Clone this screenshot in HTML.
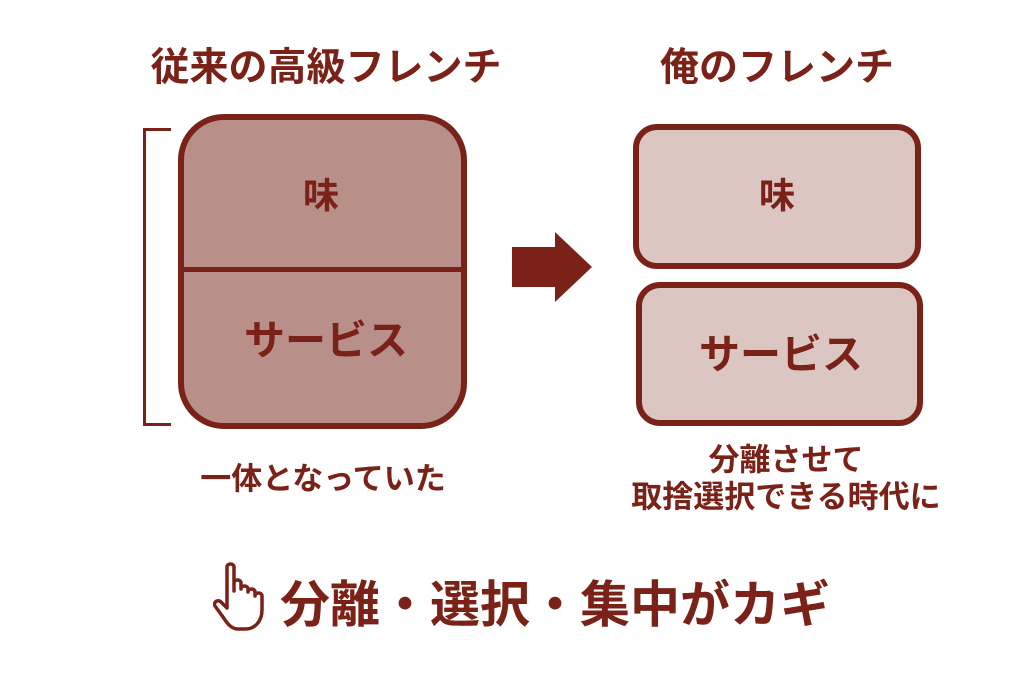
<!DOCTYPE html>
<html><head><meta charset="utf-8"><style>
body{margin:0;width:1024px;height:683px;background:#fff;position:relative;overflow:hidden;font-family:"Liberation Sans","Noto Sans CJK JP",sans-serif;font-weight:bold;color:#7a2218}
.t{position:absolute;white-space:nowrap;transform:translate(-50%,-50%);line-height:1}
.b{position:absolute;box-sizing:border-box;border:6px solid #7a2218}
</style></head><body>
<div class="t" style="left:326px;top:68px;font-size:39px">従来の高級フレンチ</div>
<div class="t" style="left:777px;top:68px;font-size:39px">俺のフレンチ</div>
<div style="position:absolute;left:143px;top:128px;width:28px;height:298px;box-sizing:border-box;border:3px solid #7a2218;border-right:none"></div>
<div class="b" style="left:178px;top:114px;width:289px;height:315px;border-radius:46px;background:#b88f89"></div>
<div style="position:absolute;left:180px;top:267px;width:285px;height:5px;background:#7a2218"></div>
<div class="t" style="left:321px;top:196px;font-size:36px">味</div>
<div class="t" style="left:326px;top:341px;font-size:41px">サービス</div>
<svg style="position:absolute;left:0;top:0" width="1024" height="683"><polygon points="512,247 555,247 555,232 592,267 555,302 555,287 512,287" fill="#7a2218"/></svg>
<div class="b" style="left:633px;top:124px;width:288px;height:145px;border-radius:24px;background:#dcc6c2"></div>
<div class="b" style="left:636px;top:282px;width:287px;height:144px;border-radius:24px;background:#dcc6c2"></div>
<div class="t" style="left:777px;top:196px;font-size:36px">味</div>
<div class="t" style="left:781px;top:355px;font-size:41px">サービス</div>
<div class="t" style="left:323px;top:479px;font-size:31px">一体となっていた</div>
<div class="t" style="left:786px;top:460px;font-size:31px">分離させて</div>
<div class="t" style="left:786px;top:497px;font-size:31px">取捨選択できる時代に</div>
<svg style="position:absolute;left:213px;top:562px" width="62" height="70" viewBox="0 0 62 70"><path d="M14 5c0-4 7-4 7 0v24l0-8c0-4 7-4 7 0v6c0-4 7-4 7 0v3c0-4 7-4 7 0v4c0-4 7-4 7 0v14c0 12-8 19-16 19h-8c-7 0-11-6-15-12l-8-11c-2-4 3-7 6-4l6 6z" fill="#fff" stroke="#7a2218" stroke-width="3.5" stroke-linejoin="round"/></svg>
<div class="t" style="left:555px;top:605px;font-size:50px">分離・選択・集中がカギ</div>
</body></html>
